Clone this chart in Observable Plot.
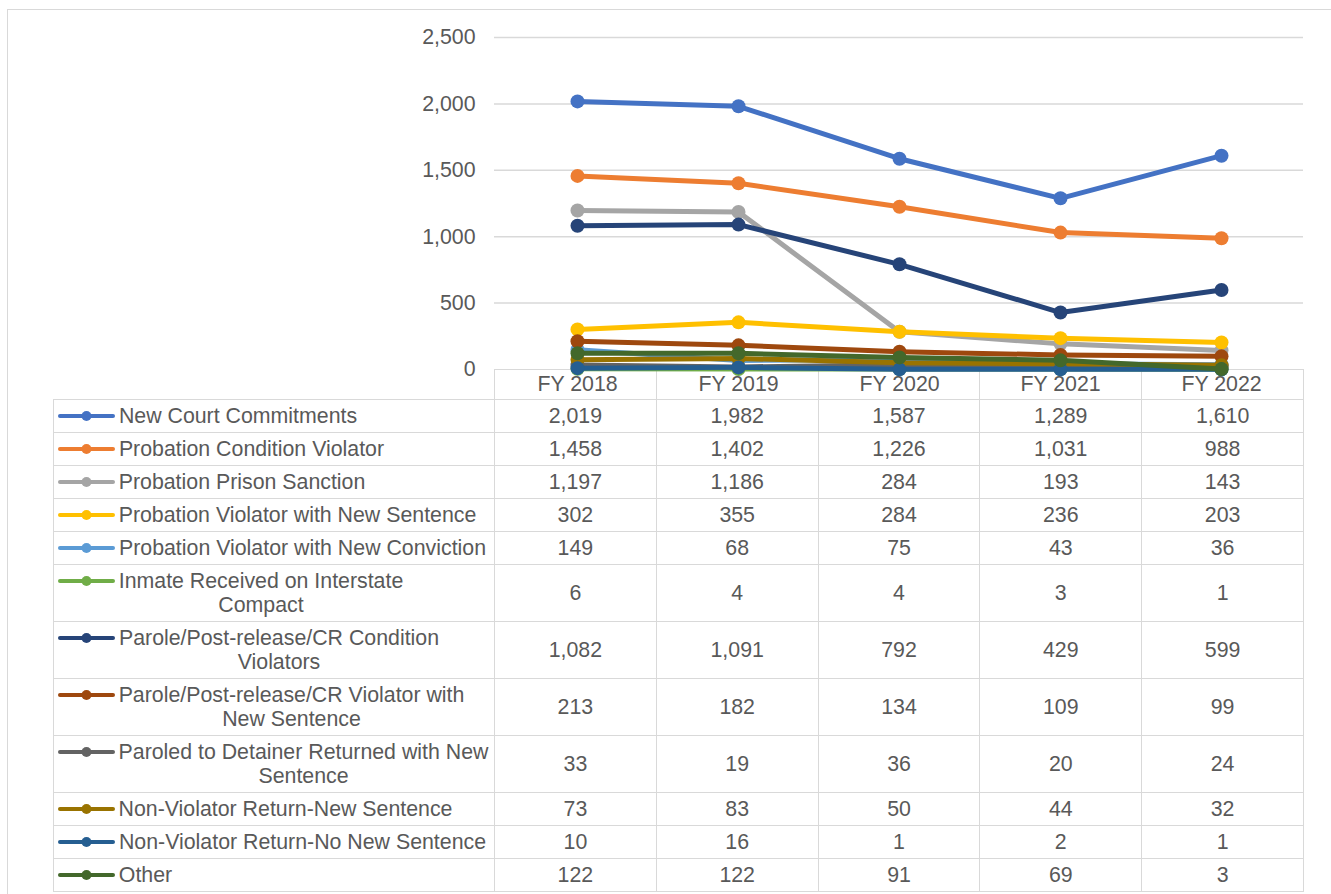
<!DOCTYPE html>
<html>
<head>
<meta charset="utf-8">
<script src="https://cdn.jsdelivr.net/npm/d3@7"></script>
<script src="https://cdn.jsdelivr.net/npm/@observablehq/plot@0.6"></script>
<style>
  html, body { margin: 0; padding: 0; background: #fff; }
  #wrap { position: relative; width: 1331px; height: 894px; overflow: hidden; font-family: "Liberation Sans", Arial, sans-serif; }
  #frame { position: absolute; left: 7px; top: 9px; width: 1400px; height: 1000px; border-left: 1.5px solid #d9d9d9; border-top: 1.5px solid #d9d9d9; }
  #chart { position: absolute; left: 0; top: 0; z-index: 2; }
  #tbl { position: absolute; left: 53px; top: 369px; z-index: 1; border-collapse: collapse; table-layout: fixed; width: 1250px;
         font-size: 21.33px; line-height: 24px; color: #595959; background: transparent; }
  #tbl td { border: 1.5px solid #d9d9d9; padding: 4px 0; text-align: center; vertical-align: middle; white-space: nowrap; }
  #tbl tr.head td { height: 29px; padding: 0; }
  #tbl td.blank { border: none; }
  #tbl td.label { text-align: left; padding-left: 4px; white-space: normal; }
  .lrow { display: flex; align-items: flex-start; }
  .lrow svg { flex: 0 0 auto; display: block; }
  .lab { display: inline-block; max-width: 372px; text-align: center; }
</style>
</head>
<body>
<div id="wrap">
  <div id="frame"></div>
  <div id="chart"></div>
</div>
<script>
const years = ["FY 2018", "FY 2019", "FY 2020", "FY 2021", "FY 2022"];
const categories = [
  "New Court Commitments",
  "Probation Condition Violator",
  "Probation Prison Sanction",
  "Probation Violator with New Sentence",
  "Probation Violator with New Conviction",
  "Inmate Received on Interstate Compact",
  "Parole/Post-release/CR Condition Violators",
  "Parole/Post-release/CR Violator with New Sentence",
  "Paroled to Detainer Returned with New Sentence",
  "Non-Violator Return-New Sentence",
  "Non-Violator Return-No New Sentence",
  "Other"
];
const colors = ["#4472C4", "#ED7D31", "#A5A5A5", "#FFC000", "#5B9BD5", "#70AD47",
                "#264478", "#9E480E", "#636363", "#997300", "#255E91", "#43682B"];

const newCourtCommitments      = [2019, 1982, 1587, 1289, 1610];
const probationConditionViol   = [1458, 1402, 1226, 1031, 988];
const probationPrisonSanction  = [1197, 1186, 284, 193, 143];
const probViolNewSentence      = [302, 355, 284, 236, 203];
const probViolNewConviction    = [149, 68, 75, 43, 36];
const interstateCompact        = [6, 4, 4, 3, 1];
const paroleConditionViol      = [1082, 1091, 792, 429, 599];
const paroleViolNewSentence    = [213, 182, 134, 109, 99];
const paroledDetainerReturned  = [33, 19, 36, 20, 24];
const nonViolNewSentence       = [73, 83, 50, 44, 32];
const nonViolNoNewSentence     = [10, 16, 1, 2, 1];
const other                    = [122, 122, 91, 69, 3];

const seriesValues = [newCourtCommitments, probationConditionViol, probationPrisonSanction,
  probViolNewSentence, probViolNewConviction, interstateCompact, paroleConditionViol,
  paroleViolNewSentence, paroledDetainerReturned, nonViolNewSentence, nonViolNoNewSentence, other];

const yTicks = [0, 500, 1000, 1500, 2000, 2500];

const data = categories.flatMap((c, i) =>
  years.map((y, j) => ({series: c, year: y, value: seriesValues[i][j]})));

const fmt = d3.format(",");
const FONT = "'Liberation Sans', Arial, sans-serif";

const chart = Plot.plot({
  width: 1331,
  height: 400,
  marginLeft: 494,
  marginRight: 28,
  marginTop: 37,
  marginBottom: 31,
  x: {type: "point", domain: years, padding: 0.5},
  y: {domain: [0, 2500]},
  color: {domain: categories, range: colors},
  style: {background: "transparent", fontFamily: FONT, color: "#595959", fontSize: "21.33px", overflow: "visible"},
  marks: [
    Plot.ruleY(yTicks.filter(d => d > 0), {stroke: "#d9d9d9", strokeWidth: 1.5}),
    Plot.axisY({ticks: yTicks, tickFormat: fmt, tickSize: 0, tickPadding: 19, fontSize: 21.33, label: null}),
    Plot.axisX({tickSize: 0, tickPadding: 6, fontSize: 21.33, label: null}),
    ...categories.flatMap(c => [
      Plot.line(data, {filter: d => d.series === c, x: "year", y: "value", stroke: "series",
        strokeWidth: 5, strokeLinejoin: "round", strokeLinecap: "round"}),
      Plot.dot(data, {filter: d => d.series === c, x: "year", y: "value", fill: "series", r: 7})
    ])
  ]
});
document.getElementById("chart").appendChild(chart);

// Data table below the chart
const wrap = document.getElementById("wrap");
const tbl = document.createElement("table");
tbl.id = "tbl";
const cg = document.createElement("colgroup");
const c0 = document.createElement("col"); c0.style.width = "441px"; cg.appendChild(c0);
years.forEach(() => { const c = document.createElement("col"); c.style.width = (809 / years.length) + "px"; cg.appendChild(c); });
tbl.appendChild(cg);

const head = document.createElement("tr");
head.className = "head";
const blank = document.createElement("td"); blank.className = "blank"; head.appendChild(blank);
years.forEach(() => head.appendChild(document.createElement("td")));
tbl.appendChild(head);

const svgNS = "http://www.w3.org/2000/svg";
categories.forEach((c, i) => {
  const tr = document.createElement("tr");
  const td = document.createElement("td");
  td.className = "label";
  const row = document.createElement("div");
  row.className = "lrow";
  const sw = document.createElementNS(svgNS, "svg");
  sw.setAttribute("width", 60); sw.setAttribute("height", 24);
  const ln = document.createElementNS(svgNS, "line");
  ln.setAttribute("x1", 2); ln.setAttribute("x2", 55); ln.setAttribute("y1", 12); ln.setAttribute("y2", 12);
  ln.setAttribute("stroke", colors[i]); ln.setAttribute("stroke-width", 4); ln.setAttribute("stroke-linecap", "round");
  const ci = document.createElementNS(svgNS, "circle");
  ci.setAttribute("cx", 28.5); ci.setAttribute("cy", 12); ci.setAttribute("r", 5); ci.setAttribute("fill", colors[i]);
  sw.appendChild(ln); sw.appendChild(ci);
  row.appendChild(sw);
  const lab = document.createElement("span");
  lab.className = "lab";
  const inner = document.createElement("span");
  inner.textContent = c;
  lab.appendChild(inner);
  row.appendChild(lab);
  td.appendChild(row);
  tr.appendChild(td);
  seriesValues[i].forEach(v => {
    const cell = document.createElement("td");
    cell.textContent = fmt(v);
    tr.appendChild(cell);
  });
  tbl.appendChild(tr);
});
wrap.appendChild(tbl);

// shrink wrapped labels to their widest line so each line centres like the original
document.querySelectorAll(".lab").forEach(lab => {
  const rects = Array.from(lab.firstChild.getClientRects());
  const w = Math.max(...rects.map(r => r.width));
  lab.style.width = (Math.ceil(w) + 1) + "px";
});
</script>
</body>
</html>
